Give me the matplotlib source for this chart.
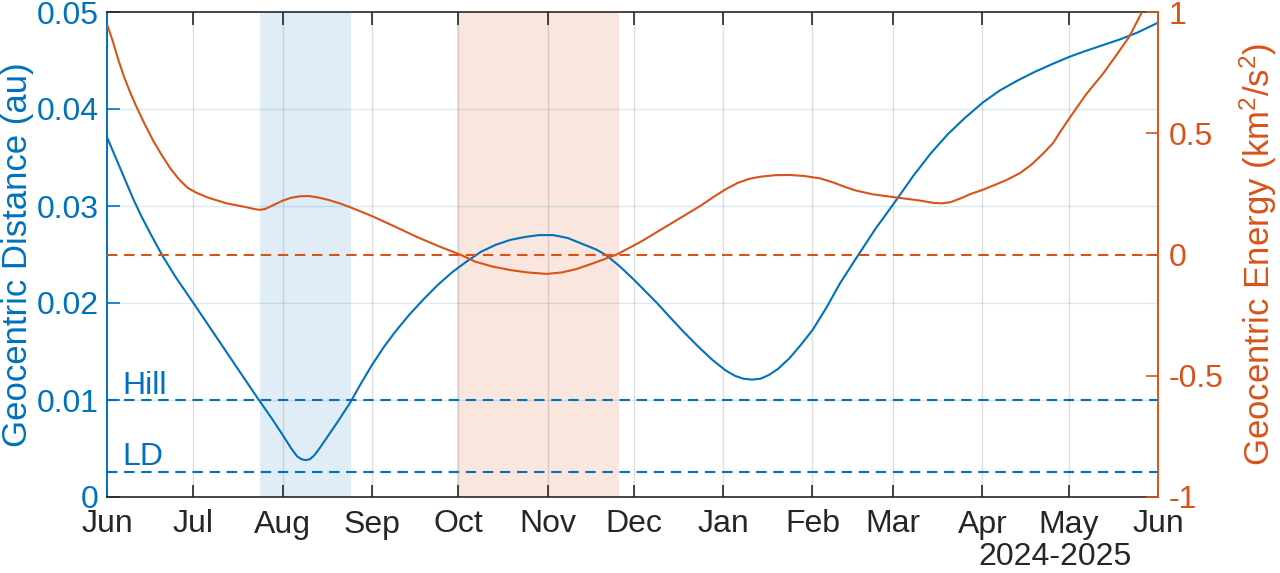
import numpy as np
import matplotlib
matplotlib.use("Agg")
import matplotlib.pyplot as plt
from datetime import datetime, timedelta

plt.rcParams['font.family'] = ['Liberation Sans', 'DejaVu Sans']
plt.rcParams['mathtext.fontset'] = 'custom'
plt.rcParams['mathtext.rm'] = 'Liberation Sans'
plt.rcParams['mathtext.it'] = 'Liberation Sans'

# ---- data (days since 2024-06-01) ----
start = datetime(2024, 6, 1)
dist_days = [0, 3, 6, 9, 12, 15, 19, 24, 30, 35, 40, 45, 50, 53, 57, 61, 64, 66,
             67.5, 69, 70.5, 72, 74, 77, 80, 84.6, 88, 92, 96, 100, 105, 110, 115,
             120, 125, 130, 135, 140, 145, 150, 155, 160, 165, 170, 173.5, 178, 183,
             187, 191, 195, 200, 205, 210, 214.6, 218, 221, 224, 227, 230, 233, 237,
             241, 245, 250, 254.5, 260.8, 267, 273.6, 280, 286, 292, 298, 304.3, 310,
             316, 322, 328, 334.4, 340, 346, 352, 358, 365]
dist_au = [0.0371, 0.0350, 0.0329, 0.0308, 0.0289, 0.0272, 0.0250, 0.0226, 0.0200,
           0.0178, 0.0156, 0.0134, 0.0112, 0.0099, 0.0082, 0.0064, 0.0050, 0.0042,
           0.0039, 0.0038, 0.0039, 0.0043, 0.0051, 0.0064, 0.0077, 0.0098, 0.0116,
           0.0136, 0.0154, 0.0170, 0.0188, 0.0204, 0.0219, 0.0232, 0.0243, 0.0253,
           0.0260, 0.0265, 0.0268, 0.0270, 0.0270, 0.0267, 0.0261, 0.0255, 0.0249,
           0.0238, 0.0224, 0.0212, 0.0200, 0.0187, 0.0171, 0.0156, 0.0142, 0.0131,
           0.0125, 0.0122, 0.0121, 0.0122, 0.0126, 0.0132, 0.0143, 0.0157, 0.0172,
           0.0196, 0.0220, 0.0249, 0.0277, 0.0304, 0.0331, 0.0354, 0.0374, 0.0391,
           0.0407, 0.0419, 0.0429, 0.0438, 0.0446, 0.0454, 0.0460, 0.0466, 0.0472,
           0.0479, 0.0489]

energy_days = [0, 2, 4, 6, 8, 10, 13, 16, 19, 22, 25, 28, 31, 35, 41.5, 48, 51, 53,
               55, 58, 61, 64, 67, 70, 73, 77, 81, 84, 88, 92.5, 100, 107.5, 115,
               122.6, 128, 134, 140, 146, 152.7, 158, 163, 168.9, 173, 177, 185, 192,
               199, 206, 211, 215, 219, 223, 227, 232, 237, 242, 247.6, 252, 256, 260,
               266, 273.6, 282, 287, 290, 293, 297, 300, 304, 312, 317, 321, 325,
               328.6, 331, 334.4, 340, 346, 351, 355, 359, 363, 365]
energy = [0.95, 0.88, 0.80, 0.73, 0.67, 0.615, 0.54, 0.47, 0.41, 0.355, 0.31, 0.275,
          0.255, 0.235, 0.211, 0.196, 0.188, 0.184, 0.188, 0.205, 0.222, 0.234, 0.240,
          0.241, 0.236, 0.225, 0.210, 0.197, 0.178, 0.156, 0.115, 0.073, 0.035, 0.0,
          -0.030, -0.050, -0.064, -0.074, -0.080, -0.074, -0.060, -0.036, -0.018,
          0.0, 0.05, 0.10, 0.15, 0.200, 0.240, 0.270, 0.295, 0.312, 0.321, 0.327,
          0.328, 0.324, 0.314, 0.298, 0.280, 0.264, 0.248, 0.236, 0.223, 0.213,
          0.211, 0.216, 0.234, 0.250, 0.266, 0.305, 0.335, 0.370, 0.415, 0.460,
          0.505, 0.565, 0.66, 0.747, 0.83, 0.898, 0.99, 1.08, 1.12]

hill_au = 0.01
ld_au = 0.00257
hill_span = (53.0, 84.6)      # days inside Hill sphere
bound_span = (121.5, 177.8)   # days with negative energy

month_labels = ['Jun', 'Jul', 'Aug', 'Sep', 'Oct', 'Nov', 'Dec', 'Jan', 'Feb',
                'Mar', 'Apr', 'May', 'Jun']
left_ticks = [0, 0.01, 0.02, 0.03, 0.04, 0.05]
left_ticklabels = ['0', '0.01', '0.02', '0.03', '0.04', '0.05']
right_ticks = [-1, -0.5, 0, 0.5, 1]
right_ticklabels = ['-1', '-0.5', '0', '0.5', '1']

BLUE = '#0072BD'
ORANGE = '#D95319'
DARK = '#262626'

def d(x):
    return start + timedelta(days=float(x))

fig = plt.figure(figsize=(12.8, 5.73), dpi=100)
ax = fig.add_axes([107/1280, 1-497/573, (1158-107)/1280, (497-12)/573])
ax2 = ax.twinx()

ax.set_xlim(d(0), d(365))
ax.set_ylim(0, 0.05)
ax2.set_ylim(-1, 1)

# shading
ax.axvspan(d(hill_span[0]), d(hill_span[1]), color=BLUE, alpha=0.12, lw=0, zorder=0)
ax.axvspan(d(bound_span[0]), d(bound_span[1]), color=ORANGE, alpha=0.14, lw=0, zorder=0)

# grid
month_dates = [datetime(2024 + (6 + i - 1) // 12, (6 + i - 1) % 12 + 1, 1) for i in range(13)]
for md in month_dates[1:-1]:
    ax.axvline(md, color=DARK, alpha=0.15, lw=1.0, zorder=0.5)
for yt in left_ticks[1:-1]:
    ax.axhline(yt, color=BLUE, alpha=0.15, lw=1.0, zorder=0.5)

# lines
ax.plot([d(x) for x in dist_days], dist_au, color=BLUE, lw=1.5, zorder=3)
ax.axhline(hill_au, color=BLUE, lw=1.5, ls=(0, (5, 3.2)), zorder=3)
ax.axhline(ld_au, color=BLUE, lw=1.5, ls=(0, (5, 3.2)), zorder=3)
ax.text(d(5.5), 0.0106, 'Hill', color=BLUE, fontsize=23, ha='left', va='baseline')
ax.text(d(5.5), 0.0033, 'LD', color=BLUE, fontsize=23, ha='left', va='baseline')

ax2.plot([d(x) for x in energy_days], energy, color=ORANGE, lw=1.5, zorder=3)
ax2.axhline(0, color=ORANGE, lw=1.5, ls=(0, (5, 3.2)), zorder=3)

# axes styling
ax.set_xticks(month_dates)
ax.set_xticklabels(month_labels)
ax.set_yticks(left_ticks)
ax.set_yticklabels(left_ticklabels)
ax2.set_yticks(right_ticks)
ax2.set_yticklabels(right_ticklabels)

ax.xaxis.set_ticks_position('both')
ax.tick_params(axis='x', direction='in', length=9, width=1.2, colors=DARK,
               labelsize=23, pad=9)
ax.tick_params(axis='y', direction='in', length=9, width=1.2, colors=BLUE,
               labelsize=23, pad=6)
ax2.tick_params(axis='y', direction='in', length=9, width=1.2, colors=ORANGE,
                labelsize=23, pad=8)

for s in ['top', 'bottom']:
    ax.spines[s].set_color(DARK)
    ax.spines[s].set_linewidth(1.2)
ax.spines['left'].set_color(BLUE)
ax.spines['left'].set_linewidth(1.4)
ax.spines['right'].set_visible(False)
ax2.spines['right'].set_color(ORANGE)
ax2.spines['right'].set_linewidth(1.4)
for s in ['left', 'top', 'bottom']:
    ax2.spines[s].set_visible(False)

ax.set_ylabel('Geocentric Distance (au)', color=BLUE, fontsize=25, labelpad=2)
ax2.set_ylabel(r'Geocentric Energy (km$^2$/s$^2$)', color=ORANGE, fontsize=25,
               labelpad=10)

fig.text(1055/1280, 1-557/573, '2024-2025', color=DARK, fontsize=23,
         ha='center', va='center')

fig.savefig('out.png', dpi=100)
